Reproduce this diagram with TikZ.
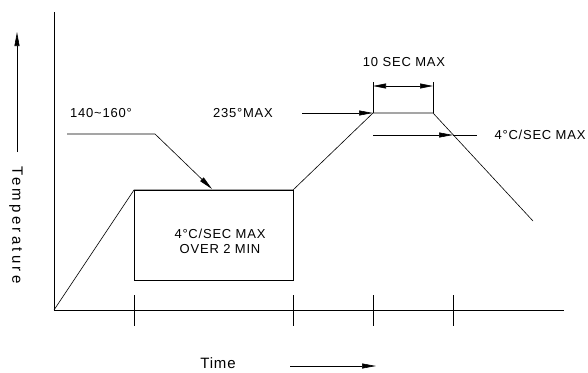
\documentclass[tikz,border=0pt]{standalone}
\usepackage{fontspec}
\setmainfont{Liberation Sans}
\newfontfamily\cadfont[LetterSpace=6]{Liberation Sans}
\newfontfamily\cadwide[LetterSpace=22]{Liberation Sans}
\usetikzlibrary{arrows.meta,positioning}
\tikzset{
        % Axes and profile
        axisline/.style={line width=0.8pt},
        profile/.style={line width=0.6pt},
        % Leader arrows
        leader/.style={line width=0.6pt, -{Triangle[length=14pt,width=5pt]}},
        dimline/.style={line width=0.6pt, {Triangle[length=13pt,width=5pt]}-{Triangle[length=13pt,width=5pt]}},
        % Labels
        lbl/.style={inner sep=1pt, font=\cadfont\fontsize{13}{15}\selectfont}
}
\begin{document}
\begin{tikzpicture}[x=1pt, y=-1pt]
            \useasboundingbox (0,0) rectangle (588,372);
            % axes
            \coordinate (origin) at (54,310);
            \coordinate (ytop) at (54,12);
            \coordinate (xend) at (564,310);
            \draw[axisline] (ytop) -- (origin) -- (xend);
            \foreach \tx in {134,293,373,453}
                \draw[profile] (\tx,295) -- (\tx,326);
            % profile
            \coordinate (preheat) at (134,190);
            \coordinate (soakend) at (293,190);
            \coordinate (peakl) at (373,113);
            \coordinate (peakr) at (433,113);
            \coordinate (cool) at (533,221);
            \coordinate (boxbr) at (293,280);
            \draw[profile] (origin) -- (preheat) -- (soakend) -- (peakl) -- (peakr) -- (cool);
            \draw[profile] (preheat) rectangle (boxbr);
            \node[lbl, align=center] (soak) at (220,241) {4°C/SEC MAX\\OVER 2 MIN};
            % soak leader
            \node[lbl] (t140) at (101,113) {140\textasciitilde160°};
            \coordinate (l1s) at (67,134);
            \coordinate (l1k) at (155,134);
            \coordinate (l1t) at (212,189);
            \draw[leader] (l1s) -- (l1k) -- (l1t);
            % peak leader
            \node[lbl] (t235) at (243,113) {235°MAX};
            \coordinate (l2s) at (302,113);
            \draw[leader] (l2s) -- (peakl);
            % dwell dimension
            \coordinate (dl) at (373,82);
            \coordinate (dr) at (433,82);
            \draw[profile] (peakl) -- (dl);
            \draw[profile] (peakr) -- (dr);
            \coordinate (dml) at (373,86);
            \coordinate (dmr) at (433,86);
            \draw[dimline] (dml) -- (dmr);
            \node[lbl] (t10) at (404,62) {10 SEC MAX};
            % cooling leader
            \coordinate (l3s) at (373,135);
            \coordinate (l3t) at (453,135);
            \coordinate (l3e) at (477,135);
            \draw[profile] (l3t) -- (l3e);
            \draw[leader] (l3s) -- (l3t);
            \node[lbl] (tcool) at (540,135) {4°C/SEC MAX};
            % axis titles
            \node[lbl, rotate=-90, font=\cadwide\fontsize{15}{15}\selectfont] (ttemp) at (16,225) {Temperature};
            \coordinate (ta1) at (17,152);
            \coordinate (ta2) at (17,32);
            \draw[leader] (ta1) -- (ta2);
            \node[lbl, font=\cadfont\fontsize{15}{15}\selectfont] (ttime) at (218,363) {Time};
            \coordinate (tb1) at (290,366);
            \coordinate (tb2) at (376,366);
            \draw[leader] (tb1) -- (tb2);
\end{tikzpicture}
\end{document}
